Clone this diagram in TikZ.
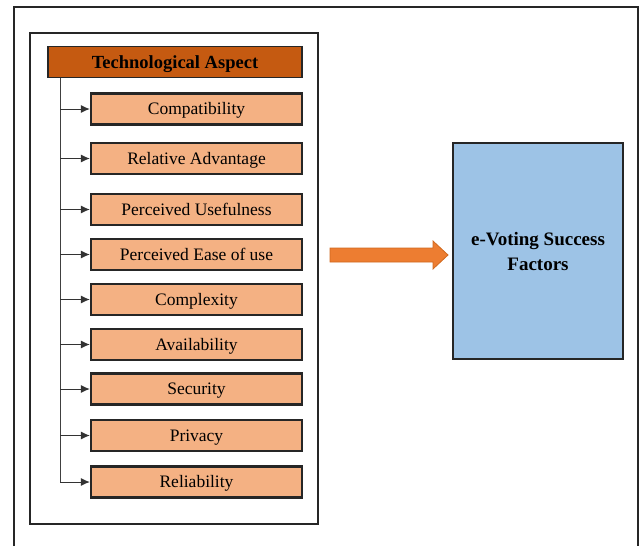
\documentclass[tikz,border=0pt]{standalone}
\usepackage{fontspec}
\setmainfont{Liberation Serif}
\usetikzlibrary{arrows.meta}
\definecolor{hdrfill}{HTML}{C55A11}
\definecolor{itemfill}{HTML}{F4B183}
\definecolor{bluefill}{HTML}{9DC3E6}
\definecolor{arrowfill}{HTML}{ED7D31}
\definecolor{arrowline}{HTML}{D0691F}
\tikzset{
  frame/.style={draw=black!85, line width=2pt},
  hdrbox/.style={draw=black!85, line width=1.3pt, fill=hdrfill, minimum width=254pt, minimum height=31pt, inner sep=0pt, text height=16pt, text depth=4pt, font=\fontsize{18.5}{20}\selectfont\bfseries},
  itembox/.style={draw=black!85, line width=2.2pt, fill=itemfill, minimum width=211pt, minimum height=31pt, inner sep=0pt, text height=15.5pt, text depth=4pt, font=\fontsize{17.5}{19}\selectfont},
  goalbox/.style={draw=black!85, line width=2.2pt, fill=bluefill, minimum width=170pt, minimum height=216pt, inner sep=0pt, align=center, font=\fontsize{19}{25}\selectfont\bfseries},
  conn/.style={draw=black!80, line width=1pt, -{Latex[length=9pt,width=8pt]}},
  trunk/.style={draw=black!75, line width=1pt}
}
\begin{document}
\begin{tikzpicture}[x=1pt,y=-1pt]
\useasboundingbox (0,0) rectangle (644,546);
% outer frame (open at the bottom)
\draw[frame] (14,546) -- (14,7) -- (638,7) -- (638,546);
% inner frame
\draw[frame] (30,33) rectangle (318,524);
% header
\node[hdrbox] (hdr) at (175,62) {Technological Aspect};
% items
\node[itembox] (i1) at (196.5,109) {Compatibility};
\node[itembox] (i2) at (196.5,158.5) {Relative Advantage};
\node[itembox] (i3) at (196.5,209.5) {Perceived Usefulness};
\node[itembox] (i4) at (196.5,254.5) {Perceived Ease of use};
\node[itembox] (i5) at (196.5,299.5) {Complexity};
\node[itembox] (i6) at (196.5,344.5) {Availability};
\node[itembox] (i7) at (196.5,389) {Security};
\node[itembox] (i8) at (196.5,435.5) {Privacy};
\node[itembox] (i9) at (196.5,482) {Reliability};
% trunk
\coordinate (tk) at (60,0);
\draw[trunk] (hdr.south -| tk) -- (i9.west -| tk);
\foreach \n in {i1,i2,i3,i4,i5,i6,i7,i8,i9}{
  \draw[conn] (\n.west -| tk) -- (\n.west);
}
% goal box
\node[goalbox] (goal) at (538,251) {e-Voting Success\\Factors};
% block arrow
\coordinate (ba) at (330,255);
\draw[fill=arrowfill, draw=arrowline, line width=0.8pt]
  (ba) ++(0,-7) -- ++(103,0) -- ++(0,-7) -- ++(15,14) -- ++(-15,14) -- ++(0,-7) -- ++(-103,0) -- cycle;
\end{tikzpicture}
\end{document}
